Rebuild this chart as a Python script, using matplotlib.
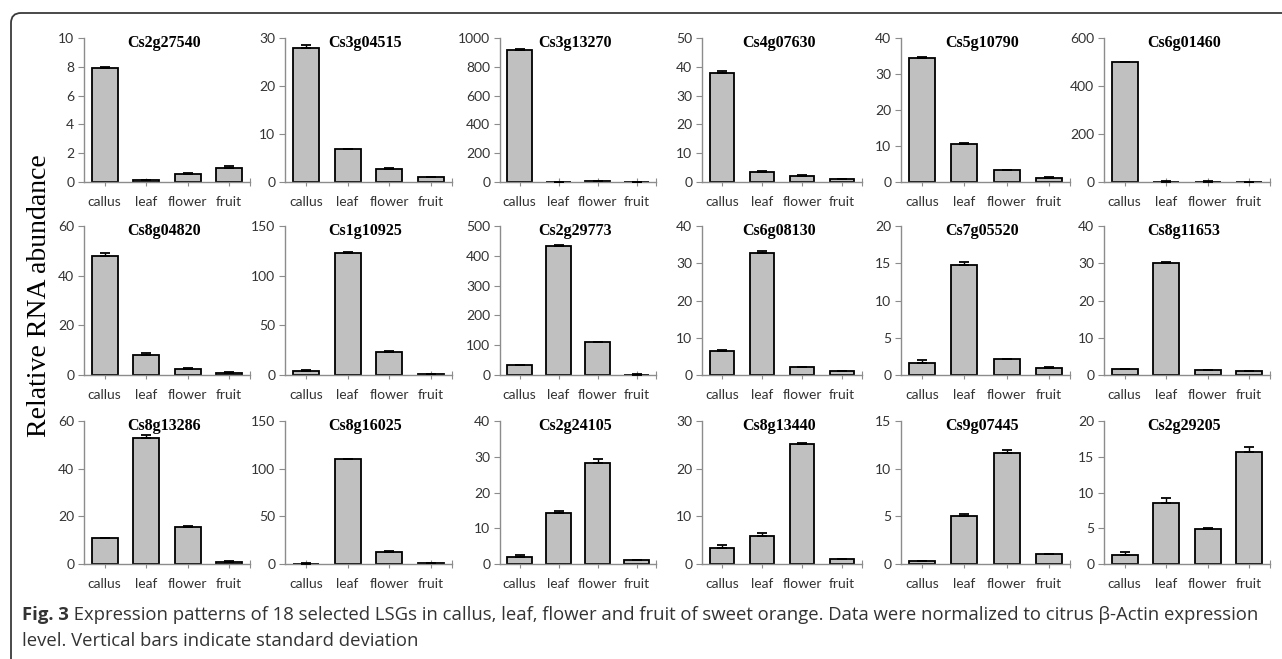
import matplotlib
matplotlib.use("Agg")
import matplotlib.pyplot as plt
from matplotlib.patches import FancyBboxPatch
from matplotlib.transforms import IdentityTransform

# ==============================================================================
# DATOS
# ==============================================================================
tissues = ["callus", "leaf", "flower", "fruit"]

genes = [
    "Cs2g27540", "Cs3g04515", "Cs3g13270", "Cs4g07630", "Cs5g10790", "Cs6g01460",
    "Cs8g04820", "Cs1g10925", "Cs2g29773", "Cs6g08130", "Cs7g05520", "Cs8g11653",
    "Cs8g13286", "Cs8g16025", "Cs2g24105", "Cs8g13440", "Cs9g07445", "Cs2g29205",
]

means = [
    [7.9, 0.12, 0.55, 1.0],
    [28.0, 6.8, 2.8, 1.0],
    [920, 2, 5, 1],
    [37.8, 3.4, 2.2, 1.0],
    [34.5, 10.6, 3.3, 1.0],
    [500, 2, 1.5, 1],
    [48.0, 8.2, 2.5, 1.0],
    [4.5, 123, 23, 1.0],
    [33, 433, 110, 1],
    [6.5, 32.7, 2.1, 1.0],
    [1.6, 14.7, 2.1, 1.0],
    [1.5, 30.1, 1.3, 1.0],
    [11.0, 52.8, 15.5, 1.0],
    [0.5, 110, 13, 1.0],
    [2.0, 14.2, 28.3, 1.0],
    [3.3, 5.9, 25.1, 1.0],
    [0.3, 5.0, 11.6, 1.0],
    [1.2, 8.5, 4.9, 15.6],
]

errors = [
    [0.1, 0.03, 0.05, 0.08],
    [0.6, 0.05, 0.1, 0.05],
    [3, 1, 2, 1],
    [0.6, 0.3, 0.1, 0.2],
    [0.1, 0.1, 0.1, 0.3],
    [1, 1, 1, 1],
    [1.0, 0.6, 0.5, 0.1],
    [0.3, 0.8, 0.8, 0.3],
    [1, 3, 1, 2],
    [0.3, 0.6, 0.1, 0.15],
    [0.35, 0.5, 0.05, 0.1],
    [0.1, 0.2, 0.1, 0.1],
    [0.1, 1.5, 0.3, 0.2],
    [0.2, 0.3, 0.5, 0.3],
    [0.5, 0.7, 1.0, 0.1],
    [0.6, 0.6, 0.2, 0.15],
    [0.05, 0.2, 0.4, 0.1],
    [0.5, 0.7, 0.2, 0.8],
]

y_max = [10, 30, 1000, 50, 40, 600,
         60, 150, 500, 40, 20, 40,
         60, 150, 40, 30, 15, 20]
y_step = [2, 10, 200, 10, 10, 200,
          20, 50, 100, 10, 5, 10,
          20, 50, 10, 10, 5, 5]

caption_bold = "Fig. 3"
caption_line1 = (" Expression patterns of 18 selected LSGs in callus, leaf, flower and fruit of "
                 "sweet orange. Data were normalized to citrus \u03b2-Actin expression")
caption_line2 = "level. Vertical bars indicate standard deviation"

# ==============================================================================
# POSICIONES (pixeles: x izq, x der, y superior, y del cero)
# ==============================================================================
W, H = 1282, 659
col_x = [(84, 250), (285, 452), (500, 656), (702, 862), (901, 1070), (1104, 1270)]
row_y = [(38, 182), (226, 375), (421, 564)]

GRAY_AXIS = "#8c8c8c"
TEXT = "#333333"


def main():
    fig = plt.figure(figsize=(W / 100, H / 100), dpi=100)

    for i, gene in enumerate(genes):
        r, c = divmod(i, 6)
        x0, x1 = col_x[c]
        ytop, yzero = row_y[r]
        ax = fig.add_axes([x0 / W, (H - yzero) / H, (x1 - x0) / W, (yzero - ytop) / H])

        pos = list(range(len(tissues)))
        ax.bar(pos, means[i], width=0.62, color="#c0c0c0", edgecolor="black",
               linewidth=1.3, zorder=2)
        ax.errorbar(pos, means[i], yerr=[[0] * 4, errors[i]], fmt="none",
                    ecolor="black", elinewidth=1.0, capsize=3.5, capthick=1.3, zorder=3)

        ax.set_xlim(-0.5, 3.5)
        ax.set_ylim(0, y_max[i])
        ax.set_yticks([k * y_step[i] for k in range(int(round(y_max[i] / y_step[i])) + 1)])
        ax.set_xticks(pos)
        ax.set_xticks([3.5], minor=True)
        ax.set_xticklabels(tissues)

        for s in ("top", "right"):
            ax.spines[s].set_visible(False)
        for s in ("left", "bottom"):
            ax.spines[s].set_color(GRAY_AXIS)
            ax.spines[s].set_linewidth(1.0)

        ax.tick_params(axis="x", which="both", direction="inout", length=6, width=0.8,
                       color=GRAY_AXIS, pad=7, labelsize=10, labelcolor=TEXT)
        ax.tick_params(axis="y", direction="out", length=4, width=0.8,
                       color=GRAY_AXIS, pad=3, labelsize=10, labelcolor=TEXT)
        for lab in ax.get_xticklabels() + ax.get_yticklabels():
            lab.set_fontfamily("Lato")

        ax.text(0.48, 1.0 - 5 / (yzero - ytop), gene, transform=ax.transAxes,
                ha="center", va="center", fontsize=11.5, fontweight="bold",
                family="Liberation Serif", color="black")

    # etiqueta del eje y comun
    fig.text(40 / W, 1 - 296 / H, "Relative RNA abundance", rotation=90,
             ha="center", va="center", fontsize=20, family="Liberation Serif", color="black")

    # marco redondeado
    frame = FancyBboxPatch((11, -30), 1320, H - 13 + 30,
                           boxstyle="round,pad=0,rounding_size=10",
                           transform=IdentityTransform(), fill=False,
                           edgecolor="#3a3a3a", linewidth=1.3)
    fig.add_artist(frame)

    # pie de figura
    t_bold = fig.text(22 / W, 1 - 615 / H, caption_bold, ha="left", va="center",
                      fontsize=13.3, fontweight="bold", family="Open Sans", color=TEXT)
    renderer = fig.canvas.get_renderer()
    bb = t_bold.get_window_extent(renderer)
    fig.text(bb.x1 / W, 1 - 615 / H, caption_line1, ha="left", va="center",
             fontsize=13.3, family="Open Sans", color=TEXT)
    fig.text(22 / W, 1 - 641 / H, caption_line2, ha="left", va="center",
             fontsize=13.3, family="Open Sans", color=TEXT)

    fig.savefig("out.png", dpi=100)
    plt.close(fig)


if __name__ == "__main__":
    main()
